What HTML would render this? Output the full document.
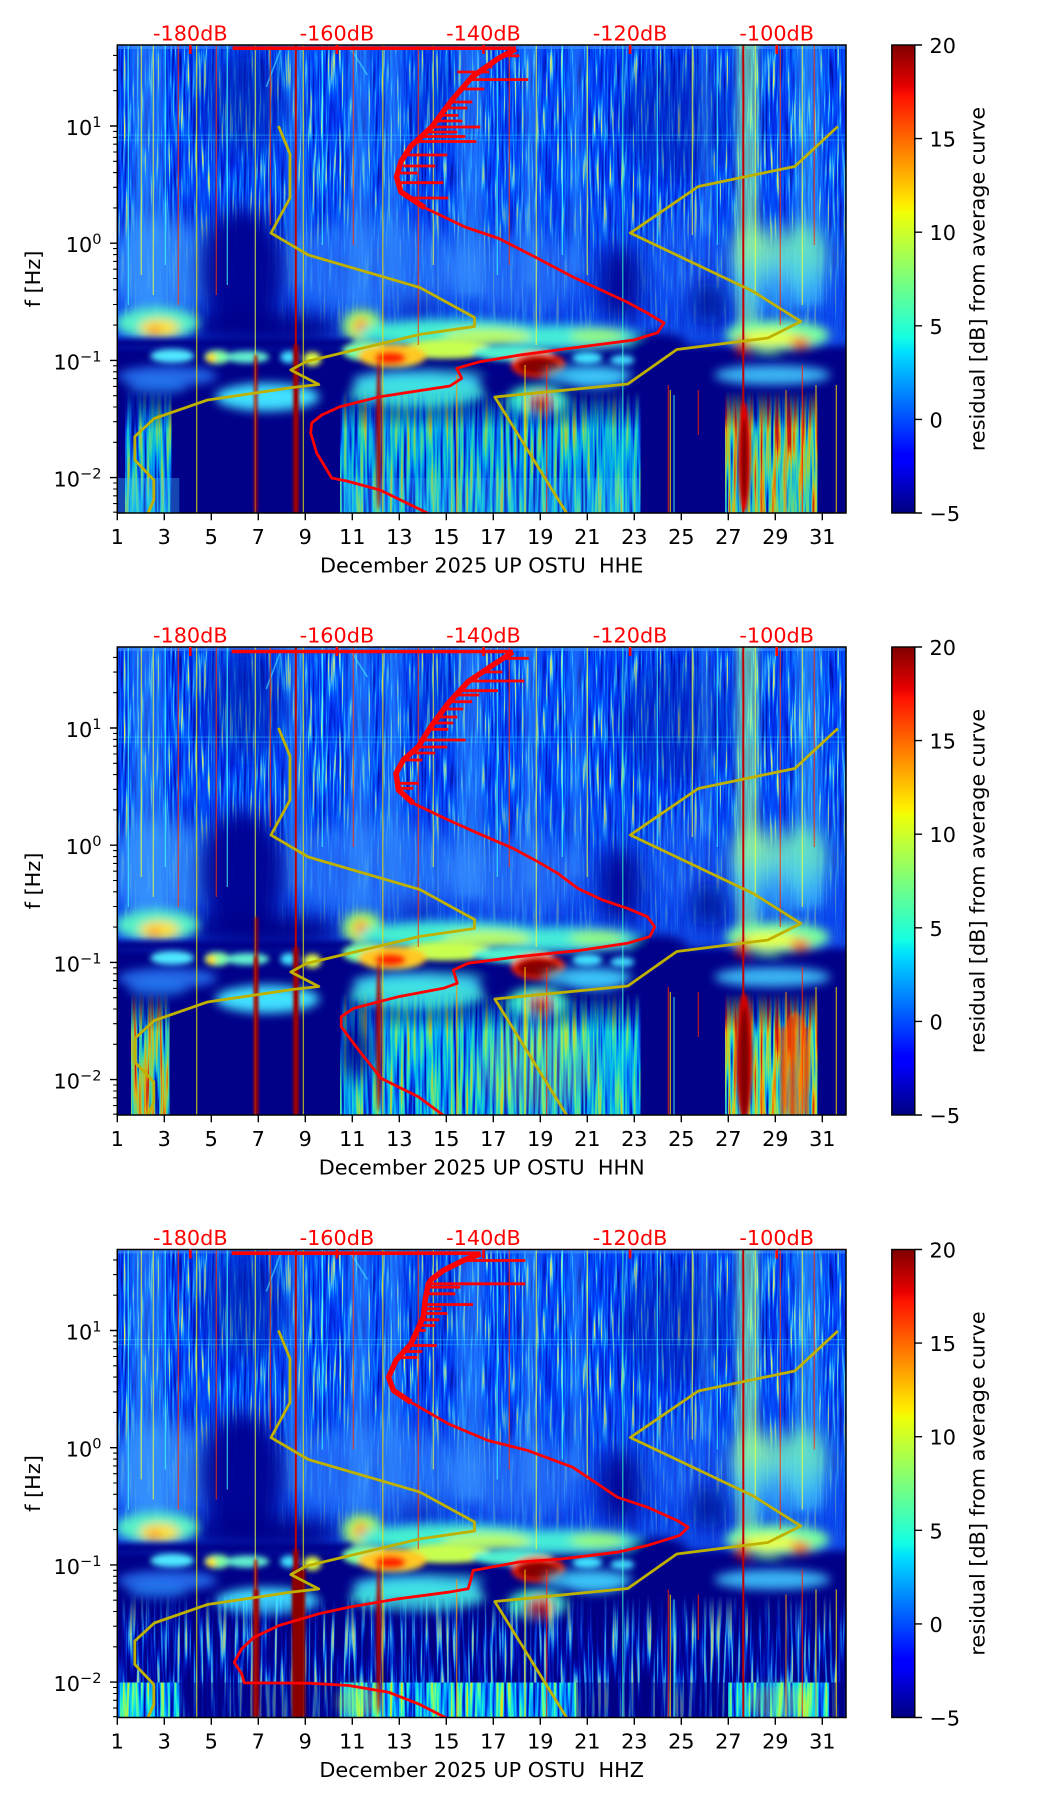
<!DOCTYPE html>
<html><head><meta charset="utf-8"><style>
html,body{margin:0;padding:0;background:#fff;}
svg{display:block;}
text{font-family:"DejaVu Sans","Liberation Sans",sans-serif;font-size:20.8px;fill:#000;}
.r{fill:#ff0000;}
</style></head><body>
<svg width="1052" height="1806" viewBox="0 0 1052 1806" xmlns="http://www.w3.org/2000/svg">
<defs>
 <clipPath id="cp"><rect x="0" y="0" width="728.7" height="468"/></clipPath>
 <linearGradient id="jet" x1="0" y1="1" x2="0" y2="0">
  <stop offset="0" stop-color="#000080"/><stop offset="0.11" stop-color="#0000ff"/><stop offset="0.125" stop-color="#0000ff"/>
  <stop offset="0.34" stop-color="#00dbff"/><stop offset="0.35" stop-color="#00e6f7"/><stop offset="0.375" stop-color="#15ffe2"/>
  <stop offset="0.64" stop-color="#eeff08"/><stop offset="0.65" stop-color="#f7f500"/><stop offset="0.66" stop-color="#ffec00"/>
  <stop offset="0.89" stop-color="#ff1300"/><stop offset="0.91" stop-color="#e80000"/><stop offset="1" stop-color="#800000"/>
 </linearGradient>
 <linearGradient id="vf" gradientUnits="userSpaceOnUse" x1="0" y1="345" x2="0" y2="385"><stop offset="0" stop-color="#000"/><stop offset="1" stop-color="#fff"/></linearGradient>
 <mask id="fadeM" maskUnits="userSpaceOnUse" x="-10" y="0" width="760" height="500"><rect x="-10" y="0" width="760" height="500" fill="url(#vf)"/></mask>
 <linearGradient id="tf" gradientUnits="userSpaceOnUse" x1="0" y1="0" x2="0" y2="300">
  <stop offset="0" stop-color="#fff"/><stop offset="0.45" stop-color="#fff"/><stop offset="0.7" stop-color="#777"/><stop offset="0.9" stop-color="#555"/><stop offset="1" stop-color="#000"/>
 </linearGradient>
 <mask id="texM" maskUnits="userSpaceOnUse" x="-10" y="-10" width="760" height="330"><rect x="-10" y="-10" width="760" height="330" fill="url(#tf)"/></mask>
 <filter id="b2" x="-50%" y="-50%" width="200%" height="200%"><feGaussianBlur stdDeviation="1.5"/></filter>
 <filter id="b3" x="-50%" y="-50%" width="200%" height="200%"><feGaussianBlur stdDeviation="3"/></filter>
 <filter id="b4" x="-50%" y="-50%" width="200%" height="200%"><feGaussianBlur stdDeviation="4"/></filter>
 <filter id="b5" x="-50%" y="-50%" width="200%" height="200%"><feGaussianBlur stdDeviation="5"/></filter>
 <filter id="b10" x="-50%" y="-50%" width="200%" height="200%"><feGaussianBlur stdDeviation="10"/></filter>
 <filter id="b15" x="-50%" y="-50%" width="200%" height="200%"><feGaussianBlur stdDeviation="15"/></filter>
 <filter id="tU" x="0" y="0" width="1" height="1" color-interpolation-filters="sRGB">
  <feTurbulence type="fractalNoise" baseFrequency="0.45 0.02" numOctaves="2" seed="4"/>
  <feColorMatrix type="matrix" values="1.8 0 0 0 -0.4  1.8 0 0 0 -0.4  1.8 0 0 0 -0.4  0 0 0 0 1"/>
  <feComponentTransfer>
   <feFuncR type="table" tableValues="0 0 0 0 0 0.3 1"/>
   <feFuncG type="table" tableValues="0.05 0.12 0.2 0.28 0.45 0.8 1"/>
   <feFuncB type="table" tableValues="0.6 0.85 0.94 1 1 1 0.3"/>
  </feComponentTransfer>
 </filter>
 <filter id="tL" x="0" y="0" width="1" height="1" color-interpolation-filters="sRGB">
  <feTurbulence type="fractalNoise" baseFrequency="0.3 0.012" numOctaves="2" seed="9"/>
  <feColorMatrix type="matrix" values="1.8 0 0 0 -0.4  1.8 0 0 0 -0.4  1.8 0 0 0 -0.4  0 0 0 0 1"/>
  <feComponentTransfer>
   <feFuncR type="table" tableValues="0 0 0 0 0.15 0.5 0.9"/>
   <feFuncG type="table" tableValues="0.05 0.2 0.5 0.78 0.95 1 0.85"/>
   <feFuncB type="table" tableValues="0.6 0.9 1 1 0.8 0.45 0.1"/>
  </feComponentTransfer>
 </filter>
 <filter id="tY" x="0" y="0" width="1" height="1" color-interpolation-filters="sRGB">
  <feTurbulence type="fractalNoise" baseFrequency="0.3 0.012" numOctaves="2" seed="13"/>
  <feColorMatrix type="matrix" values="2 0 0 0 -0.5  2 0 0 0 -0.5  2 0 0 0 -0.5  0 0 0 0 1"/>
  <feComponentTransfer>
   <feFuncR type="table" tableValues="0 0 0.2 0.5 1 1 0.9"/>
   <feFuncG type="table" tableValues="0.1 0.6 0.95 1 0.85 0.45 0.1"/>
   <feFuncB type="table" tableValues="0.7 1 0.8 0.45 0 0 0"/>
  </feComponentTransfer>
 </filter>
 <filter id="tB" x="0" y="0" width="1" height="1" color-interpolation-filters="sRGB">
  <feTurbulence type="fractalNoise" baseFrequency="0.3 0.012" numOctaves="2" seed="5"/>
  <feColorMatrix type="matrix" values="2 0 0 0 -0.5  2 0 0 0 -0.5  2 0 0 0 -0.5  0 0 0 0 1"/>
  <feComponentTransfer>
   <feFuncR type="table" tableValues="0 0 0 0 0 0.3 0.8"/>
   <feFuncG type="table" tableValues="0 0 0 0.05 0.35 0.85 1"/>
   <feFuncB type="table" tableValues="0.5 0.5 0.55 0.72 0.95 1 0.6"/>
  </feComponentTransfer>
 </filter>

 <!-- shared spectrogram background (local coords) -->
 <g id="spec">
  <rect x="-5" y="-5" width="740" height="480" fill="#1048e8"/>
  <g mask="url(#texM)"><rect x="0" y="0" width="729" height="310" fill="#0c3ee8" filter="url(#tU)" opacity="0.9"/></g>
  <rect x="0" y="0" width="729" height="4" fill="#3a86ff" opacity="0.7"/>
  <g filter="url(#b15)">
   <ellipse cx="128" cy="55" rx="40" ry="55" fill="#0a1aa8" opacity="0.6"/>
   <ellipse cx="560" cy="75" rx="55" ry="60" fill="#0a1aa8" opacity="0.5"/>
   <ellipse cx="318" cy="55" rx="18" ry="45" fill="#0a20b0" opacity="0.4"/>
  </g>
  <g filter="url(#b4)" opacity="0.45">
   <rect x="14" y="-10" width="32" height="280" fill="#3aa0ff"/>
   <rect x="170" y="-10" width="18" height="250" fill="#3aa0ff"/>
   <rect x="231" y="-10" width="22" height="270" fill="#3aa0ff"/>
   <rect x="267" y="-10" width="18" height="250" fill="#3aa0ff"/>
   <rect x="339" y="-10" width="28" height="260" fill="#3aa0ff"/>
   <rect x="405" y="-10" width="16" height="250" fill="#3aa0ff"/>
   <rect x="453" y="-10" width="12" height="240" fill="#3aa0ff"/>
   <rect x="583" y="-10" width="10" height="200" fill="#3aa0ff"/>
   <rect x="678" y="-10" width="26" height="270" fill="#40c0ff"/>
   <rect x="619" y="-10" width="22" height="300" fill="#80ffc0"/>
  </g>
  <rect x="620" y="-10" width="20" height="300" fill="#b0ff70" opacity="0.3" filter="url(#b4)"/>
  <g filter="url(#b10)">
   <ellipse cx="45" cy="222" rx="55" ry="50" fill="#3d9dff" opacity="0.7"/>
   <ellipse cx="255" cy="222" rx="105" ry="45" fill="#3a90ff" opacity="0.5"/>
   <ellipse cx="400" cy="228" rx="70" ry="38" fill="#3a90ff" opacity="0.45"/>
   <ellipse cx="565" cy="215" rx="35" ry="45" fill="#2a7cff" opacity="0.3"/>
   <ellipse cx="638" cy="210" rx="22" ry="30" fill="#90f8a0" opacity="0.85"/>
   <ellipse cx="684" cy="210" rx="26" ry="32" fill="#70f0b8" opacity="0.85"/>
   <ellipse cx="660" cy="240" rx="50" ry="30" fill="#40c8ff" opacity="0.55"/>
  </g>
  <g filter="url(#b10)">
   <ellipse cx="125" cy="225" rx="42" ry="62" fill="#000090" opacity="0.95"/>
   <ellipse cx="503" cy="238" rx="20" ry="38" fill="#000090" opacity="0.9"/>
   <ellipse cx="592" cy="258" rx="18" ry="22" fill="#000a90" opacity="0.8"/>
   <ellipse cx="145" cy="284" rx="78" ry="16" fill="#000088"/>
   <ellipse cx="300" cy="263" rx="22" ry="7" fill="#000088" opacity="0.6"/>
  </g>
  <g filter="url(#b4)"><rect x="-20" y="301" width="770" height="200" fill="#000088"/></g>
  <g filter="url(#b5)">
   <ellipse cx="40" cy="278" rx="42" ry="16" fill="#55f0c8"/>
   <ellipse cx="42" cy="283" rx="20" ry="9" fill="#ffe030"/>
   <circle cx="37" cy="286" r="5" fill="#ff7000"/>
   <ellipse cx="245" cy="281" rx="20" ry="17" fill="#90ff70"/>
   <ellipse cx="244" cy="283" rx="9" ry="11" fill="#ffc020"/>
   <circle cx="243" cy="280" r="4" fill="#ff5000"/>
   <ellipse cx="335" cy="288" rx="95" ry="14" fill="#45f0d0"/>
   <ellipse cx="445" cy="292" rx="80" ry="12" fill="#45ecd8"/>
   <ellipse cx="370" cy="292" rx="45" ry="8" fill="#d8ff40" opacity="0.8"/>
   <ellipse cx="480" cy="291" rx="28" ry="7" fill="#b8ff50" opacity="0.7"/>
   <ellipse cx="660" cy="290" rx="52" ry="15" fill="#78ffa0"/>
   <ellipse cx="652" cy="293" rx="30" ry="7" fill="#f0ff30"/>
   <ellipse cx="683" cy="298" rx="10" ry="6" fill="#ff7000"/>
   <ellipse cx="625" cy="301" rx="6" ry="10" fill="#e00000"/>
   <ellipse cx="648" cy="313" rx="14" ry="8" fill="#000090"/>
   <ellipse cx="540" cy="300" rx="30" ry="12" fill="#000088"/>
  </g>
  <g filter="url(#b3)"><rect x="-10" y="294" width="245" height="9" fill="#000088"/></g>
  <g filter="url(#b3)">
   <ellipse cx="55" cy="311" rx="22" ry="7" fill="#50e8ff"/>
   <ellipse cx="100" cy="312" rx="13" ry="7" fill="#80ffa0"/>
   <circle cx="94" cy="313" r="5" fill="#ffe000"/>
   <ellipse cx="130" cy="312" rx="22" ry="6" fill="#60f0d0"/>
   <ellipse cx="172" cy="312" rx="9" ry="6" fill="#40e0ff"/>
   <ellipse cx="195" cy="314" rx="9" ry="7" fill="#e0ff40"/>
   <ellipse cx="250" cy="306" rx="25" ry="10" fill="#80ffa0"/>
   <ellipse cx="330" cy="304" rx="45" ry="10" fill="#c8ff50"/>
   <ellipse cx="395" cy="308" rx="40" ry="8" fill="#50f0d0"/>
   <ellipse cx="275" cy="311" rx="34" ry="12" fill="#ffc820"/>
   <ellipse cx="273" cy="313" rx="16" ry="7" fill="#ff2800"/>
   <ellipse cx="421" cy="320" rx="27" ry="13" fill="#ff2000"/>
   <ellipse cx="421" cy="321" rx="22" ry="9" fill="#880000"/>
   <ellipse cx="470" cy="313" rx="15" ry="6" fill="#40e0ff"/>
   <ellipse cx="505" cy="315" rx="12" ry="5" fill="#40d8ff"/>
  </g>
  <g filter="url(#b5)">
   <ellipse cx="50" cy="331" rx="50" ry="10" fill="#2a80ff" opacity="0.8"/>
   <ellipse cx="300" cy="336" rx="65" ry="11" fill="#40e0ff" opacity="0.85"/>
   <ellipse cx="470" cy="330" rx="45" ry="10" fill="#40d8ff" opacity="0.8"/>
   <ellipse cx="655" cy="330" rx="58" ry="10" fill="#40c8ff" opacity="0.9"/>
   <ellipse cx="345" cy="324" rx="38" ry="5" fill="#000090" opacity="0.7"/>
   <ellipse cx="150" cy="352" rx="52" ry="14" fill="#40e0ff"/>
   <ellipse cx="300" cy="348" rx="68" ry="15" fill="#40e8e0" opacity="0.9"/>
   <ellipse cx="420" cy="356" rx="30" ry="16" fill="#40f0c0"/>
   <ellipse cx="423" cy="360" rx="13" ry="12" fill="#ff3000"/>
   <ellipse cx="423" cy="362" rx="7" ry="6" fill="#a00000"/>
   <ellipse cx="478" cy="334" rx="30" ry="10" fill="#40d0ff" opacity="0.7"/>
   <ellipse cx="40" cy="342" rx="30" ry="8" fill="#2a90ff" opacity="0.6"/>
  </g>
  <rect x="0" y="89.5" width="729" height="1.2" fill="#40e8ff" opacity="0.35"/>
  <rect x="0" y="94.5" width="729" height="1.2" fill="#40e8ff" opacity="0.3"/>
  <path d="M163,5 L149,42 M233,3 L250,30" stroke="#40e0ff" stroke-width="1.5" opacity="0.7" fill="none"/>
 </g>

 <g id="lines">
  <g stroke-width="1.2" fill="none" opacity="0.75">
   <path d="M79.4,0V468" stroke="#f0f000"/>
   <path d="M186,0V468" stroke="#f0f000"/>
   <path d="M265.5,0V468" stroke="#f0e000"/>
   <path d="M505.5,0V468" stroke="#40ffd0"/>
   <path d="M138,0V468" stroke="#e8ff40"/>
   <path d="M61,0V260 M99,0V250 M301,0V300 M663,0V280 M697,0V200 M236,0V200 M153,0V180 M392,0V220" stroke="#ff3000"/>
   <path d="M11,0V260 M110,0V240 M380,0V230 M540,0V200 M600,0V200 M48,0V220 M205,0V200 M445,0V210" stroke="#40ffff"/>
   <path d="M36,0V250 M470,0V230 M685,0V260 M638,0V250 M419,0V300 M24,0V230 M316,0V220 M575,0V190" stroke="#e8ff40"/>
   <path d="M339.4,330V468 M668.7,345V468" stroke="#ff9000"/>
   <path d="M407.7,320V468 M698.7,340V468 M719,340V468 M553,345V468" stroke="#ffe000"/>
   <path d="M429.4,320V468 M685,320V468 M551,340V468 M581,345V390" stroke="#ff2000"/>
   <path d="M556.7,350V468" stroke="#40ffff"/>
  </g>
  <path d="M178.5,0V468" stroke="#c00000" stroke-width="2"/>
  <path d="M626,0V468" stroke="#c00000" stroke-width="2"/>
  <g filter="url(#b2)">
   <rect x="176" y="300" width="5.5" height="168" fill="#a00000"/>
   <rect x="137" y="310" width="3" height="158" fill="#b00000"/>
   <ellipse cx="261.5" cy="390" rx="2.5" ry="75" fill="#b00000"/>
  </g>
 </g>

 <g id="yel" fill="none" stroke="#bfb100" stroke-width="2.8" stroke-linejoin="round">
  <polyline points="161.2,81 172.7,109 172.7,153 153.7,188 191,210 302.5,242.5 357.2,272.5 357.2,281.5 302,289.5 231,306.5 189,316.5 173.5,325 201.5,339.5 175,342.5 90.2,355 37,373.5 17.5,391.5 17.5,415 36.5,435 36.5,455 29.8,470"/>
  <polyline points="720.5,81.5 677.5,121.5 581,141.5 513,188 636,246.5 683.5,276.5 650.5,293 559.5,304.5 510.5,339 377.5,352 450.5,470"/>
 </g>

 <g id="frame">
  <rect x="0" y="0" width="728.7" height="468" fill="none" stroke="#000" stroke-width="1.5"/>
  <path d="M0,468v7.3M47,468v7.3M94,468v7.3M141,468v7.3M188,468v7.3M235,468v7.3M282,468v7.3M329,468v7.3M376,468v7.3M423,468v7.3M470,468v7.3M517,468v7.3M564,468v7.3M611,468v7.3M658,468v7.3M705,468v7.3" stroke="#000" stroke-width="1.4"/>
  <path d="M0,81h-7.3M0,198.2h-7.3M0,315.4h-7.3M0,432.6h-7.3" stroke="#000" stroke-width="1.4"/>
  <path d="M0,10.4h-4.2M0,25.1h-4.2M0,45.7h-4.2M0,86.4h-4.2M0,92.4h-4.2M0,99.2h-4.2M0,107h-4.2M0,116.3h-4.2M0,127.6h-4.2M0,142.3h-4.2M0,162.9h-4.2M0,203.6h-4.2M0,209.6h-4.2M0,216.4h-4.2M0,224.2h-4.2M0,233.5h-4.2M0,244.8h-4.2M0,259.5h-4.2M0,280.1h-4.2M0,320.8h-4.2M0,326.8h-4.2M0,333.6h-4.2M0,341.4h-4.2M0,350.7h-4.2M0,362h-4.2M0,376.7h-4.2M0,397.3h-4.2M0,438h-4.2M0,444h-4.2M0,450.8h-4.2M0,458.6h-4.2M0,467.2h-4.2" stroke="#000" stroke-width="1.1"/>
  <path d="M73,0v9M219.6,0v9M366.2,0v9M512.8,0v9M659.4,0v9" stroke="#ff0000" stroke-width="2.6"/>
 </g>

 <g id="cbar">
  <rect x="891.8" y="45" width="23" height="468" fill="url(#jet)" stroke="#000" stroke-width="1.4"/>
  <path d="M914.8,45h7.3M914.8,138.6h7.3M914.8,232.2h7.3M914.8,325.8h7.3M914.8,419.4h7.3M914.8,513h7.3" stroke="#000" stroke-width="1.4"/>
 </g>
</defs>

<!-- ================= PANEL 1 ================= -->
<g transform="translate(117.3,45)">
 <g clip-path="url(#cp)">
  <use href="#spec"/>
  <g mask="url(#fadeM)">
   <rect x="223" y="340" width="300" height="130" fill="#000" filter="url(#tL)" opacity="0.85"/>
   <rect x="8" y="340" width="46" height="130" fill="#000" filter="url(#tL)" opacity="0.85"/>
   <rect x="608" y="335" width="92" height="135" fill="#000" filter="url(#tY)" opacity="0.85"/>
  </g>
  <rect x="0" y="433" width="62" height="35" fill="#40c8ff" opacity="0.35"/>
  <rect x="223" y="433" width="300" height="35" fill="#50d8ff" opacity="0.2"/>
  <use href="#lines"/>
  <g filter="url(#b2)">
   <ellipse cx="627" cy="412" rx="6" ry="55" fill="#e00000"/>
   <ellipse cx="627" cy="415" rx="3" ry="42" fill="#800000"/>
  </g>
  <use href="#yel"/>
  <g fill="none" stroke="#ff0000" stroke-linejoin="round" stroke-linecap="butt">
   <path d="M115.3,3.2H398.7" stroke-width="3.6"/>
   <polyline points="398.7,4 381.7,13 354.7,32 334.7,55 314.3,82 293.7,101 283.7,116.5 279.2,132 283.7,147 307.5,162.7" stroke-width="5.5"/>
   <polyline points="307.5,162.7 347.7,182 381.7,193.5 415.4,210.8 455.7,232 509.7,257 530,268 546.7,278 540.2,287.7 516.7,295 462.7,302 402.7,310 362.7,316.7 339.4,323.3 344.4,333.3 332.7,341 262.7,351.7 222.7,361.7 204.4,370 194.4,378 193.4,388 199.4,408 214.4,433 229.4,436 262.7,445 312,469" stroke-width="2.8"/>
   <path d="M385,10.8H402M368,22H375M352,34.6H411M344,44H367M333,57H355M323,70.4H341M314,82H363M304,91.5H348M298,96.5H359M288,110H330M281,137.7H326M292,153H331M340,27H372M328,63H350M318,76H345M309,87H340M286,121H318M282,128H300" stroke-width="2.8"/>
  </g>
 </g>
 <use href="#frame"/>
</g>
<use href="#cbar"/>
<g>
 <text class="r" x="190.3" y="40.5" text-anchor="middle">-180dB</text>
 <text class="r" x="336.9" y="40.5" text-anchor="middle">-160dB</text>
 <text class="r" x="483.5" y="40.5" text-anchor="middle">-140dB</text>
 <text class="r" x="630.1" y="40.5" text-anchor="middle">-120dB</text>
 <text class="r" x="776.7" y="40.5" text-anchor="middle">-100dB</text>
 <text x="101.5" y="135" text-anchor="end">10<tspan dy="-8" font-size="14.6">1</tspan></text>
 <text x="101.5" y="252.2" text-anchor="end">10<tspan dy="-8" font-size="14.6">0</tspan></text>
 <text x="101.5" y="369.4" text-anchor="end">10<tspan dy="-8" font-size="14.6">−1</tspan></text>
 <text x="101.5" y="486.6" text-anchor="end">10<tspan dy="-8" font-size="14.6">−2</tspan></text>
 <g text-anchor="middle">
  <text x="117.3" y="544">1</text><text x="164.3" y="544">3</text><text x="211.3" y="544">5</text><text x="258.3" y="544">7</text>
  <text x="305.3" y="544">9</text><text x="352.3" y="544">11</text><text x="399.3" y="544">13</text><text x="446.3" y="544">15</text>
  <text x="493.3" y="544">17</text><text x="540.3" y="544">19</text><text x="587.3" y="544">21</text><text x="634.3" y="544">23</text>
  <text x="681.3" y="544">25</text><text x="728.3" y="544">27</text><text x="775.3" y="544">29</text><text x="822.3" y="544">31</text>
 </g>
 <text x="481.7" y="572.5" text-anchor="middle" xml:space="preserve" style="white-space:pre">December 2025 UP OSTU  HHE</text>
 <text transform="translate(40,279) rotate(-90)" text-anchor="middle">f [Hz]</text>
 <text x="929.5" y="53">20</text><text x="929.5" y="146.6">15</text><text x="929.5" y="240.2">10</text>
 <text x="929.5" y="333.8">5</text><text x="929.5" y="427.4">0</text><text x="929.5" y="521">−5</text>
 <text transform="translate(984.5,279) rotate(-90)" text-anchor="middle">residual [dB] from average curve</text>
</g>

<!-- ================= PANEL 2 ================= -->
<g transform="translate(117.3,647)">
 <g clip-path="url(#cp)">
  <use href="#spec"/>
  <g mask="url(#fadeM)">
   <rect x="223" y="340" width="300" height="130" fill="#000" filter="url(#tL)" opacity="0.9"/>
   <rect x="14" y="340" width="38" height="130" fill="#000" filter="url(#tY)" opacity="0.85"/>
   <rect x="608" y="335" width="92" height="135" fill="#000" filter="url(#tY)" opacity="0.9"/>
  </g>
  <g filter="url(#b10)">
   <ellipse cx="420" cy="420" rx="60" ry="45" fill="#e0ff40" opacity="0.25"/>
   <ellipse cx="238" cy="402" rx="16" ry="32" fill="#000088" opacity="0.9"/>
  </g>
  <use href="#lines"/>
  <g filter="url(#b2)">
   <rect x="137.5" y="270" width="3" height="198" fill="#a00000"/>
   <ellipse cx="627" cy="410" rx="8" ry="64" fill="#d00000"/>
   <ellipse cx="627" cy="415" rx="4.5" ry="55" fill="#800000"/>
   <ellipse cx="678" cy="420" rx="15" ry="55" fill="#ff6000" opacity="0.55"/>
   <rect x="664" y="380" width="2.5" height="88" fill="#e00000"/>
   <rect x="674" y="370" width="2.5" height="98" fill="#e00000"/>
   <rect x="688" y="380" width="2.5" height="88" fill="#e00000"/>
  </g>
  <use href="#yel"/>
  <g fill="none" stroke="#ff0000" stroke-linejoin="round">
   <path d="M114.4,4.5H395.6" stroke-width="3.6"/>
   <polyline points="395.6,5 375.7,18 350.8,34.7 330.9,56.3 313.5,79.7 301,99.7 286,113 278.7,126.3 281.1,143 296,156.3" stroke-width="5.5"/>
   <polyline points="296,156.3 331,173 360.8,186.3 395.6,201.3 420.5,214.7 440.4,226.3 460.3,241.3 485.2,253 510,261.3 530,269.7 537.4,279.7 532.5,289.7 510,296.3 460.3,303.7 400.6,309.7 350.8,316.3 336,323 339.9,336.3 326,341.3 281.1,349.7 236.4,361.3 223.9,369.7 223.9,379.7 241.3,403 263.7,431.3 301,449.7 327,469" stroke-width="2.8"/>
   <path d="M386,11.3H411.5M365,25H385M351,34H407M342,43.7H380.7M332,54.7H354.8M320,70H340M311,82.3H331M305,93H348.3M300,100H330M286,113H305M280,136.3H301M280.8,141.3H296M338,48H362M326,62H346M316,76H336M293,106H318" stroke-width="2.8"/>
  </g>
 </g>
 <use href="#frame"/>
</g>
<use href="#cbar" transform="translate(0,602)"/>
<g>
 <text class="r" x="190.3" y="642.5" text-anchor="middle">-180dB</text>
 <text class="r" x="336.9" y="642.5" text-anchor="middle">-160dB</text>
 <text class="r" x="483.5" y="642.5" text-anchor="middle">-140dB</text>
 <text class="r" x="630.1" y="642.5" text-anchor="middle">-120dB</text>
 <text class="r" x="776.7" y="642.5" text-anchor="middle">-100dB</text>
 <text x="101.5" y="737" text-anchor="end">10<tspan dy="-8" font-size="14.6">1</tspan></text>
 <text x="101.5" y="854.2" text-anchor="end">10<tspan dy="-8" font-size="14.6">0</tspan></text>
 <text x="101.5" y="971.4" text-anchor="end">10<tspan dy="-8" font-size="14.6">−1</tspan></text>
 <text x="101.5" y="1088.6" text-anchor="end">10<tspan dy="-8" font-size="14.6">−2</tspan></text>
 <g text-anchor="middle">
  <text x="117.3" y="1146">1</text><text x="164.3" y="1146">3</text><text x="211.3" y="1146">5</text><text x="258.3" y="1146">7</text>
  <text x="305.3" y="1146">9</text><text x="352.3" y="1146">11</text><text x="399.3" y="1146">13</text><text x="446.3" y="1146">15</text>
  <text x="493.3" y="1146">17</text><text x="540.3" y="1146">19</text><text x="587.3" y="1146">21</text><text x="634.3" y="1146">23</text>
  <text x="681.3" y="1146">25</text><text x="728.3" y="1146">27</text><text x="775.3" y="1146">29</text><text x="822.3" y="1146">31</text>
 </g>
 <text x="481.7" y="1174.5" text-anchor="middle" xml:space="preserve" style="white-space:pre">December 2025 UP OSTU  HHN</text>
 <text transform="translate(40,881) rotate(-90)" text-anchor="middle">f [Hz]</text>
 <text x="929.5" y="655">20</text><text x="929.5" y="748.6">15</text><text x="929.5" y="842.2">10</text>
 <text x="929.5" y="935.8">5</text><text x="929.5" y="1029.4">0</text><text x="929.5" y="1123">−5</text>
 <text transform="translate(984.5,881) rotate(-90)" text-anchor="middle">residual [dB] from average curve</text>
</g>

<!-- ================= PANEL 3 ================= -->
<g transform="translate(117.3,1249.5)">
 <g clip-path="url(#cp)">
  <use href="#spec"/>
  <g mask="url(#fadeM)">
   <rect x="0" y="340" width="729" height="95" fill="#000" filter="url(#tB)" opacity="0.8"/>
  </g>
  <rect x="0" y="433" width="729" height="40" fill="#000" filter="url(#tB)"/>
  <rect x="0" y="433" width="62" height="40" fill="#000" filter="url(#tL)"/>
  <rect x="223" y="433" width="236" height="40" fill="#000" filter="url(#tL)"/>
  <rect x="611" y="433" width="101" height="40" fill="#000" filter="url(#tL)"/>
  <rect x="62" y="433" width="161" height="40" fill="#000088" opacity="0.6"/>
  <rect x="459" y="433" width="152" height="40" fill="#000088" opacity="0.6"/>
  <rect x="712" y="433" width="20" height="40" fill="#000088" opacity="0.8"/>
  <ellipse cx="240" cy="452" rx="20" ry="18" fill="#d0ff40" opacity="0.4" filter="url(#b5)"/>
  <ellipse cx="660" cy="452" rx="35" ry="18" fill="#d0ff40" opacity="0.3" filter="url(#b5)"/>
  <use href="#lines"/>
  <g filter="url(#b2)">
   <rect x="175" y="320" width="13" height="148" fill="#8a0000"/>
   <rect x="136.5" y="340" width="5" height="128" fill="#a00000"/>
  </g>
  <use href="#yel"/>
  <g fill="none" stroke="#ff0000" stroke-linejoin="round">
   <path d="M114.4,3.7H363.3" stroke-width="3.6"/>
   <polyline points="363.3,4.3 345.8,11 326,21 314,30 311,34.3 308,50 306,67.7 293.6,94.3 278.7,111 271.2,127.7 276.2,141 293.6,152.7" stroke-width="5.5"/>
   <polyline points="293.6,152.7 331,174.3 370.7,191 410.5,201 455.3,217.7 480.2,234.3 500,247.7 530,257.7 559.8,271 570.8,277.7 562.3,286 530,296 500,302.7 445.3,309.3 400.6,312.7 355.8,321 353.3,331 350.8,339.3 331,342.7 281.1,349.3 231.4,357.7 201.5,364.3 161.7,376 136.8,387.7 124.4,399.3 116.9,412.7 124.4,424.3 126.9,433.3 191.6,433.7 231.4,436 271.2,442.7 301,454.3 330,469" stroke-width="2.8"/>
   <path d="M345.8,11H408M311,34.3H408M310.4,37.7H343M309,44.3H338M307.4,55H355.8M307,59.3H324M304.8,70.3H322M299.8,81H308.5M292,96H319.4M306,64H330M302,76H318M286,102H305M280,108H300" stroke-width="2.8"/>
  </g>
 </g>
 <use href="#frame"/>
</g>
<use href="#cbar" transform="translate(0,1204.5)"/>
<g>
 <text class="r" x="190.3" y="1245" text-anchor="middle">-180dB</text>
 <text class="r" x="336.9" y="1245" text-anchor="middle">-160dB</text>
 <text class="r" x="483.5" y="1245" text-anchor="middle">-140dB</text>
 <text class="r" x="630.1" y="1245" text-anchor="middle">-120dB</text>
 <text class="r" x="776.7" y="1245" text-anchor="middle">-100dB</text>
 <text x="101.5" y="1339.5" text-anchor="end">10<tspan dy="-8" font-size="14.6">1</tspan></text>
 <text x="101.5" y="1456.7" text-anchor="end">10<tspan dy="-8" font-size="14.6">0</tspan></text>
 <text x="101.5" y="1573.9" text-anchor="end">10<tspan dy="-8" font-size="14.6">−1</tspan></text>
 <text x="101.5" y="1691.1" text-anchor="end">10<tspan dy="-8" font-size="14.6">−2</tspan></text>
 <g text-anchor="middle">
  <text x="117.3" y="1748.5">1</text><text x="164.3" y="1748.5">3</text><text x="211.3" y="1748.5">5</text><text x="258.3" y="1748.5">7</text>
  <text x="305.3" y="1748.5">9</text><text x="352.3" y="1748.5">11</text><text x="399.3" y="1748.5">13</text><text x="446.3" y="1748.5">15</text>
  <text x="493.3" y="1748.5">17</text><text x="540.3" y="1748.5">19</text><text x="587.3" y="1748.5">21</text><text x="634.3" y="1748.5">23</text>
  <text x="681.3" y="1748.5">25</text><text x="728.3" y="1748.5">27</text><text x="775.3" y="1748.5">29</text><text x="822.3" y="1748.5">31</text>
 </g>
 <text x="481.7" y="1777" text-anchor="middle" xml:space="preserve" style="white-space:pre">December 2025 UP OSTU  HHZ</text>
 <text transform="translate(40,1483.5) rotate(-90)" text-anchor="middle">f [Hz]</text>
 <text x="929.5" y="1257.5">20</text><text x="929.5" y="1351.1">15</text><text x="929.5" y="1444.7">10</text>
 <text x="929.5" y="1538.3">5</text><text x="929.5" y="1631.9">0</text><text x="929.5" y="1725.5">−5</text>
 <text transform="translate(984.5,1483.5) rotate(-90)" text-anchor="middle">residual [dB] from average curve</text>
</g>
</svg>
</body></html>
